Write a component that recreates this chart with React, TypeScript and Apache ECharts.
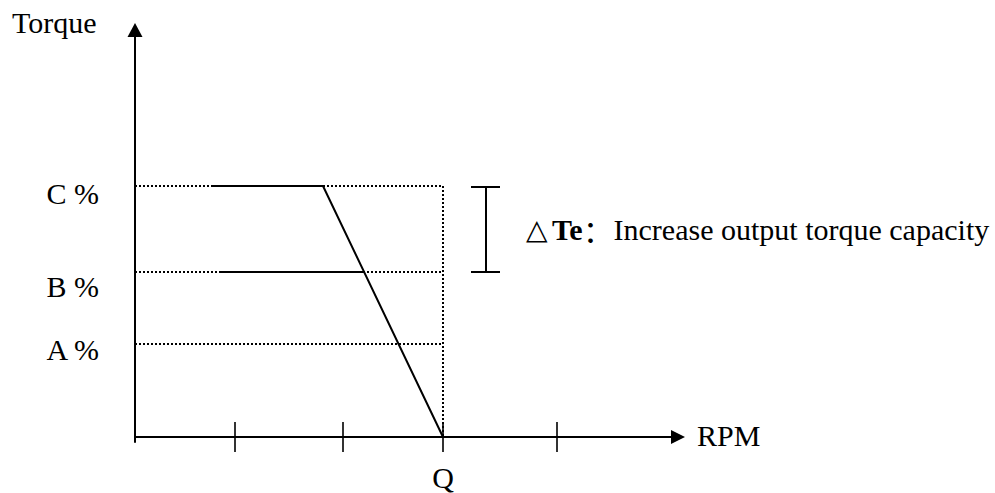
import React, { useEffect, useRef } from "react";
import * as echarts from "echarts";

// RPM positions (px-like units from the origin)
const tickRpm = [100, 208, 308, 422];
const qRpm = 308;
// Torque levels (units above the RPM axis)
const levelNames = ["A %", "B %", "C %"];
const levelValues = [93, 165, 251];
// Torque curves
const curveC = [
  [78, 251],
  [188, 251],
  [308, 0],
];
const curveB = [
  [85, 165],
  [229, 165],
];
// ΔTe bracket x positions
const bracketX = 351;
const bracketCapL = 336;
const bracketCapR = 365;

const FONT = "'Liberation Serif', 'Times New Roman', serif";
const FS = 30;

export default function App() {
  const ref = useRef<HTMLDivElement>(null);
  useEffect(() => {
    if (!ref.current) return;
    const chart = echarts.init(ref.current, null, { renderer: "svg" });
    const dotted = { color: "#000", width: 2, type: [2, 2] as any };
    const solid = { color: "#000", width: 2, type: "solid" as any };
    const lineSeries = (data: number[][], style: any) => ({
      type: "line",
      data,
      symbol: "none",
      silent: true,
      lineStyle: style,
      z: style === solid ? 3 : 2,
    });
    const C = levelValues[2];
    const B = levelValues[1];
    const series: any[] = [];
    levelValues.forEach((v) => series.push(lineSeries([[0, v], [qRpm, v]], dotted)));
    series.push(lineSeries([[qRpm, C], [qRpm, 0]], dotted));
    series.push(lineSeries(curveC, solid));
    series.push(lineSeries(curveB, solid));
    series.push(lineSeries([[bracketX, C - 1], [bracketX, B]], solid));
    series.push(lineSeries([[bracketCapL, C - 1], [bracketCapR, C - 1]], solid));
    series.push(lineSeries([[bracketCapL, B], [bracketCapR, B]], solid));
    series.push({
      type: "scatter",
      silent: true,
      symbol: "rect",
      symbolSize: [2, 30],
      itemStyle: { color: "#000" },
      data: tickRpm.map((x) => [x, 0]),
      z: 4,
    });

    const labelY = [349, 286, 193];
    const textStyle = (extra: any) => ({
      fill: "#000",
      fontFamily: FONT,
      fontSize: FS,
      ...extra,
    });
    const graphic: any[] = [
      { type: "text", x: 12, y: 22, style: textStyle({ text: "Torque", align: "left", verticalAlign: "middle" }) },
      { type: "text", x: 697, y: 435, style: textStyle({ text: "RPM", align: "left", verticalAlign: "middle" }) },
      { type: "text", x: 135 + qRpm, y: 477, style: textStyle({ text: "Q", align: "center", verticalAlign: "middle" }) },
      ...levelNames.map((n, i) => ({
        type: "text",
        x: 99,
        y: labelY[i],
        style: textStyle({ text: n, align: "right", verticalAlign: "middle" }),
      })),
      {
        type: "text",
        x: 526,
        y: 229,
        style: textStyle({
          text: "{d|△}{t|Te}{c|：}{n|Increase output torque capacity}",
          align: "left",
          verticalAlign: "middle",
          rich: {
            d: { fontFamily: "'DejaVu Sans', sans-serif", fontSize: 28, width: 26, fill: "#000" },
            t: { fontFamily: FONT, fontSize: FS, fontWeight: "bold", fill: "#000" },
            c: { fontFamily: "'Noto Sans CJK SC', sans-serif", fontSize: FS, width: 31, fill: "#000", align: "center" },
            n: { fontFamily: FONT, fontSize: FS, fill: "#000" },
          },
        }),
      },
    ];

    chart.setOption({
      animation: false,
      backgroundColor: "#fff",
      grid: { left: 135, right: 317, top: 30, bottom: 51 },
      xAxis: {
        type: "value",
        min: 0,
        max: 543,
        axisLine: {
          show: true,
          onZero: true,
          symbol: ["none", "triangle"],
          symbolSize: [14, 14],
          lineStyle: { color: "#000", width: 2 },
        },
        axisTick: { show: false },
        axisLabel: { show: false },
        splitLine: { show: false },
      },
      yAxis: {
        type: "value",
        min: -5,
        max: 407,
        axisLine: {
          show: true,
          onZero: true,
          symbol: ["none", "triangle"],
          symbolSize: [15, 14],
          lineStyle: { color: "#000", width: 2 },
        },
        axisTick: { show: false },
        axisLabel: { show: false },
        splitLine: { show: false },
      },
      series,
      graphic,
    });
    return () => chart.dispose();
  }, []);
  return (
    <div
      ref={ref}
      style={{ position: "fixed", left: 0, top: 0, width: 995, height: 493, background: "#fff" }}
    />
  );
}
